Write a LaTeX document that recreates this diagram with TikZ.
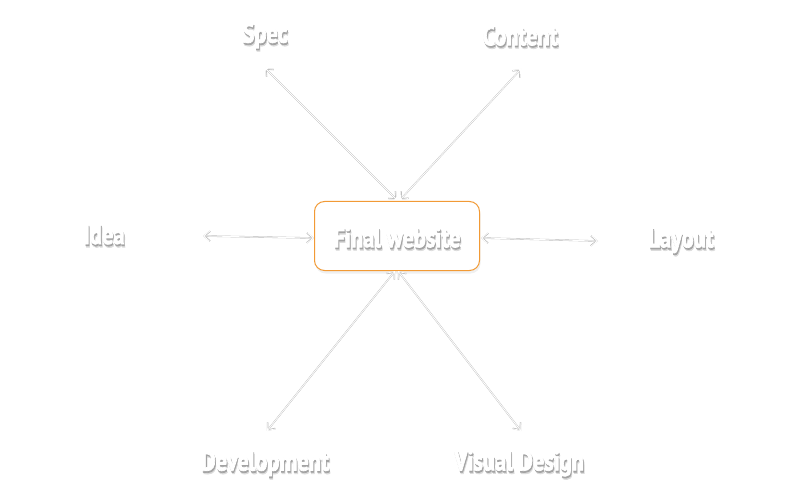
\documentclass[tikz,border=0pt]{standalone}
\usepackage{fontspec}
\setmainfont{PT Sans}[FakeStretch=0.8, BoldFeatures={FakeBold=2.5}]
\usetikzlibrary{arrows.meta,shadows}
\definecolor{boxorange}{HTML}{F29A35}
\newcommand\shtext[1]{%
  \makebox[0pt][l]{\hspace{1.4pt}\raisebox{-3.2pt}{\textcolor{black!14}{#1}}}%
  \makebox[0pt][l]{\hspace{0.8pt}\raisebox{-1.8pt}{\textcolor{black!36}{#1}}}%
  \textcolor{white}{#1}}
\tikzset{
  lbl/.style={font=\bfseries\fontsize{28}{32}\selectfont, inner sep=0pt},
  link/.style={draw=white, line width=0.8pt, {Straight Barb[length=6pt,width=10pt]}-{Straight Barb[length=6pt,width=10pt]}},
  linkshadow/.style={draw=black!28, line width=1.5pt, {Straight Barb[length=6pt,width=10pt]}-{Straight Barb[length=6pt,width=10pt]}},
  finalbox/.style={draw=boxorange, line width=1pt, rounded corners=10pt, minimum width=165pt, minimum height=69pt, fill=white,
    drop shadow={opacity=0.12, shadow xshift=1pt, shadow yshift=-3pt}}
}
\begin{document}
\begin{tikzpicture}[x=1pt,y=-1pt]
\useasboundingbox (0,0) rectangle (785,500);
% box
\node[finalbox] (box) at (397,236) {};
% labels
\node[lbl] (final) at (397,239) {\shtext{Final website}};
\node[lbl] (spec) at (265,37) {\shtext{Spec}};
\node[lbl] (content) at (520,37) {\shtext{Content}};
\node[lbl] (idea) at (104,236) {\shtext{Idea}};
\node[lbl] (layout) at (681,242) {\shtext{Layout}};
\node[lbl] (dev) at (265,465) {\shtext{Development}};
\node[lbl] (vis) at (519,465) {\shtext{Visual Design}};
% arrow endpoints
\coordinate (specE) at (265,68);
\coordinate (contentE) at (521,69);
\coordinate (ideaE) at (203,236);
\coordinate (layoutE) at (598,241);
\coordinate (devE) at (267,431);
\coordinate (visE) at (521,431);
\coordinate (boxT1) at (397,200);
\coordinate (boxT2) at (400,200);
\coordinate (boxL) at (314,238);
\coordinate (boxR) at (481,238);
\coordinate (boxB1) at (395,271);
\coordinate (boxB2) at (398,271);
% shadows of arrows
\begin{scope}[shift={(1.0,1.6)}]
\draw[linkshadow] (specE) -- (boxT1);
\draw[linkshadow] (contentE) -- (boxT2);
\draw[linkshadow] (ideaE) -- (boxL);
\draw[linkshadow] (boxR) -- (layoutE);
\draw[linkshadow] (devE) -- (boxB1);
\draw[linkshadow] (visE) -- (boxB2);
\end{scope}
% arrows
\draw[link] (specE) -- (boxT1);
\draw[link] (contentE) -- (boxT2);
\draw[link] (ideaE) -- (boxL);
\draw[link] (boxR) -- (layoutE);
\draw[link] (devE) -- (boxB1);
\draw[link] (visE) -- (boxB2);
\end{tikzpicture}
\end{document}
